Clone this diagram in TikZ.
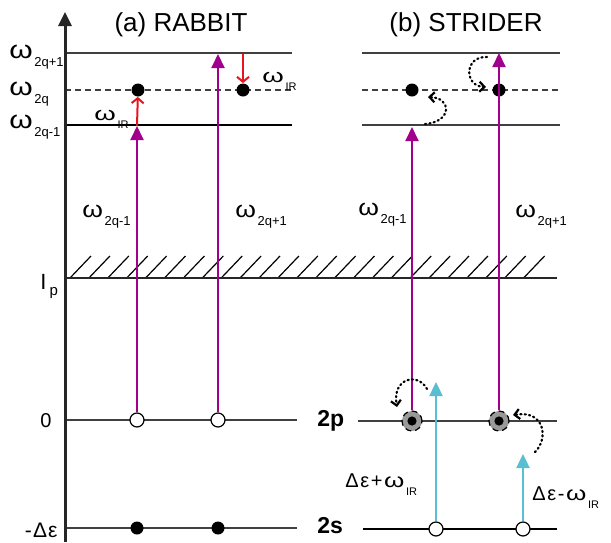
\documentclass[tikz,border=0pt]{standalone}
\usepackage{fontspec}
\setmainfont{Liberation Sans}
\usepackage{graphicx}
\usetikzlibrary{arrows.meta}

% stretched omega and lowered index, as in the figure
\newcommand{\om}[1][1.2]{\scalebox{#1}[1]{ω}}
\newcommand{\lowsub}[2][6.5]{\kern0.8pt\raisebox{-4pt}{\fontsize{#1}{#1}\selectfont #2}}

\begin{document}
\begin{tikzpicture}[x=0.5pt, y=-0.5pt,
    lvl/.style={black!75, line width=0.6pt},
    lbl/.style={inner sep=0pt, font=\fontsize{11.5}{12}\selectfont},
    xuv/.style={draw=xuvcolor, line width=1pt, -{Triangle[length=7pt,width=6.5pt]}},
    ir/.style={draw=ircolor, line width=1pt, -{Straight Barb[length=2.5pt,width=6pt]}},
    dress/.style={draw=dresscolor, line width=1.2pt, -{Triangle[length=7pt,width=6.5pt]}},
    hop/.style={black, line width=1.1pt, dash pattern=on 0.6pt off 1.6pt, line cap=round,
        -{Straight Barb[length=2.5pt,width=5pt,line cap=butt]}},
    full/.style={circle, fill=black, inner sep=0pt, minimum size=6.5pt},
    hollow/.style={circle, draw=black, fill=white, line width=0.6pt, inner sep=0pt, minimum size=7pt},
    pdot/.style={circle, draw=black, fill=black!40, densely dashed, line width=0.6pt, inner sep=0pt,
        minimum size=10pt,
        path picture={\fill[black] (path picture bounding box.center) circle (2.3pt);}}]
        % Define colors
        \definecolor{xuvcolor}{RGB}{160,0,140}
        \definecolor{ircolor}{RGB}{230,20,30}
        \definecolor{dresscolor}{RGB}{90,190,210}

        \useasboundingbox (0,0) rectangle (611,542);

        % 1. Energy levels (a)
        \draw[lvl] (65,53) -- (292,53);
        \draw[lvl, dash pattern=on 3pt off 2pt] (65,90) -- (292,90);
        \draw[black, line width=0.6pt] (65,125) -- (292,125);
        \draw[lvl] (65,420) -- (297,420);
        \draw[lvl] (65,528) -- (297,528);

        % 2. Energy levels (b)
        \draw[lvl] (362,53) -- (560,53);
        \draw[lvl, dash pattern=on 3pt off 2pt] (362,90) -- (560,90);
        \draw[lvl] (362,125) -- (560,125);
        \draw[lvl] (358,421) -- (557,421);
        \draw[black, line width=0.6pt] (363,529) -- (557,529);

        % Ionisation threshold with hatching
        \foreach \i in {0,...,24}
            \draw[black, line width=0.6pt] (70+18.9*\i,278) -- ++(21,-22);
        \draw[black!85, line width=1.3pt] (65,278) -- (557,278);

        % The axis
        \draw[black!85, line width=1.5pt, -{Triangle[length=7pt,width=6.5pt]}] (65,542) -- (65,12);

        % Titles
        \node[lbl, font=\fontsize{13}{14}\selectfont] (ta) at (181,25) {(a) RABBIT};
        \node[lbl, font=\fontsize{13}{14}\selectfont] (tb) at (466,25) {(b) STRIDER};

        % Axis labels
        \node[lbl, anchor=base west, font=\fontsize{12.5}{13}\selectfont] (l53) at (9,58) {\om\lowsub{2q+1}};
        \node[lbl, anchor=base west, font=\fontsize{12.5}{13}\selectfont] (l90) at (9,95) {\om\lowsub{2q}};
        \node[lbl, anchor=base west, font=\fontsize{12.5}{13}\selectfont] (l125) at (9,128) {\om\lowsub{2q-1}};
        \node[lbl, anchor=base west, font=\fontsize{11}{12}\selectfont] (lip) at (40,289) {I\kern1.5pt\raisebox{-3pt}{\fontsize{7.5}{8}\selectfont p}};
        \node[lbl, anchor=base west, font=\fontsize{10}{10}\selectfont] (l0) at (40,427) {0};
        \node[lbl, anchor=base east, font=\fontsize{10.5}{11}\selectfont] (lde) at (58,537) {-\kern0.6ptΔ\kern0.6ptε};
        \node[lbl, anchor=base west, font=\fontsize{11.5}{12}\selectfont\bfseries] (l2p) at (317,426) {2p};
        \node[lbl, anchor=base west, font=\fontsize{11.5}{12}\selectfont\bfseries] (l2s) at (317,533) {2s};

        % States (a)
        \node[full] (ra1) at (138,90) {};
        \node[full] (ra2) at (243,90) {};
        \node[hollow] (rz1) at (137,420) {};
        \node[hollow] (rz2) at (218,420) {};
        \node[full] (rg1) at (137,528) {};
        \node[full] (rg2) at (218,528) {};
        \coordinate (ru1) at (137,126);
        \coordinate (ru2) at (218,54);
        \coordinate (rt2) at (243,54);

        % States (b)
        \node[full] (sd1) at (412,90) {};
        \node[full] (sd2) at (499,90) {};
        \node[pdot] (sp1) at (412,421) {};
        \node[pdot] (sp2) at (499,421) {};
        \node[hollow] (ss1) at (436,529) {};
        \node[hollow] (ss2) at (523,529) {};
        \coordinate (su1) at (412,127);
        \coordinate (su2) at (499,53);
        \coordinate (sc1) at (436,382);
        \coordinate (sc2) at (523,454);

        % XUV photons
        \draw[xuv] (rz1) -- (ru1);
        \draw[xuv] (rz2) -- (ru2);
        \draw[xuv] (sp1) -- (su1);
        \draw[xuv] (sp2) -- (su2);

        % IR photons
        \draw[ir] (ru1) -- (ra1);
        \draw[ir] (rt2) -- (ra2);

        % Dressing photons
        \draw[dress] (ss1) -- (sc1);
        \draw[dress] (ss2) -- (sc2);

        % Dotted hops
        \coordinate (h1a) at (425,124);
        \coordinate (h1b) at (428,97);
        \coordinate (h2a) at (487,57);
        \coordinate (h2b) at (486,87);
        \coordinate (h3a) at (427,389);
        \coordinate (h3b) at (397,407);
        \coordinate (h4a) at (535,452);
        \coordinate (h4b) at (513,415);
        \draw[hop] (h1a) .. controls (452,122) and (452,98) .. (h1b);
        \draw[hop] (h2a) .. controls (464,56) and (464,86) .. (h2b);
        \draw[hop] (h3a) .. controls (418,372) and (392,378) .. (h3b);
        \draw[hop] (h4a) .. controls (548,440) and (546,410) .. (h4b);

        % Photon labels
        \node[lbl, anchor=base west] (pa1) at (82,217) {\om[1.15]\lowsub{2q-1}};
        \node[lbl, anchor=base west] (pa2) at (235,217) {\om[1.15]\lowsub{2q+1}};
        \node[lbl, anchor=base west] (pb1) at (358,215) {\om[1.15]\lowsub{2q-1}};
        \node[lbl, anchor=base west] (pb2) at (515,217) {\om[1.15]\lowsub{2q+1}};
        \node[lbl, anchor=base west, font=\fontsize{9.5}{10}\selectfont] (ia1) at (94,120) {\om[1.45]\lowsub[5.5]{IR}};
        \node[lbl, anchor=base west, font=\fontsize{9.5}{10}\selectfont] (ia2) at (262,82) {\om[1.45]\lowsub[5.5]{IR}};
        \node[lbl, anchor=base west, font=\fontsize{10}{10}\selectfont] (db1) at (345,487) {Δ\kern0.8ptε\kern0.8pt+\kern0.8pt\om[1.3]\lowsub[5.5]{IR}};
        \node[lbl, anchor=base west, font=\fontsize{10}{10}\selectfont] (db2) at (532,500) {Δ\kern0.8ptε\kern0.8pt-\kern0.8pt\om[1.3]\lowsub[5.5]{IR}};

    \end{tikzpicture}
\end{document}
